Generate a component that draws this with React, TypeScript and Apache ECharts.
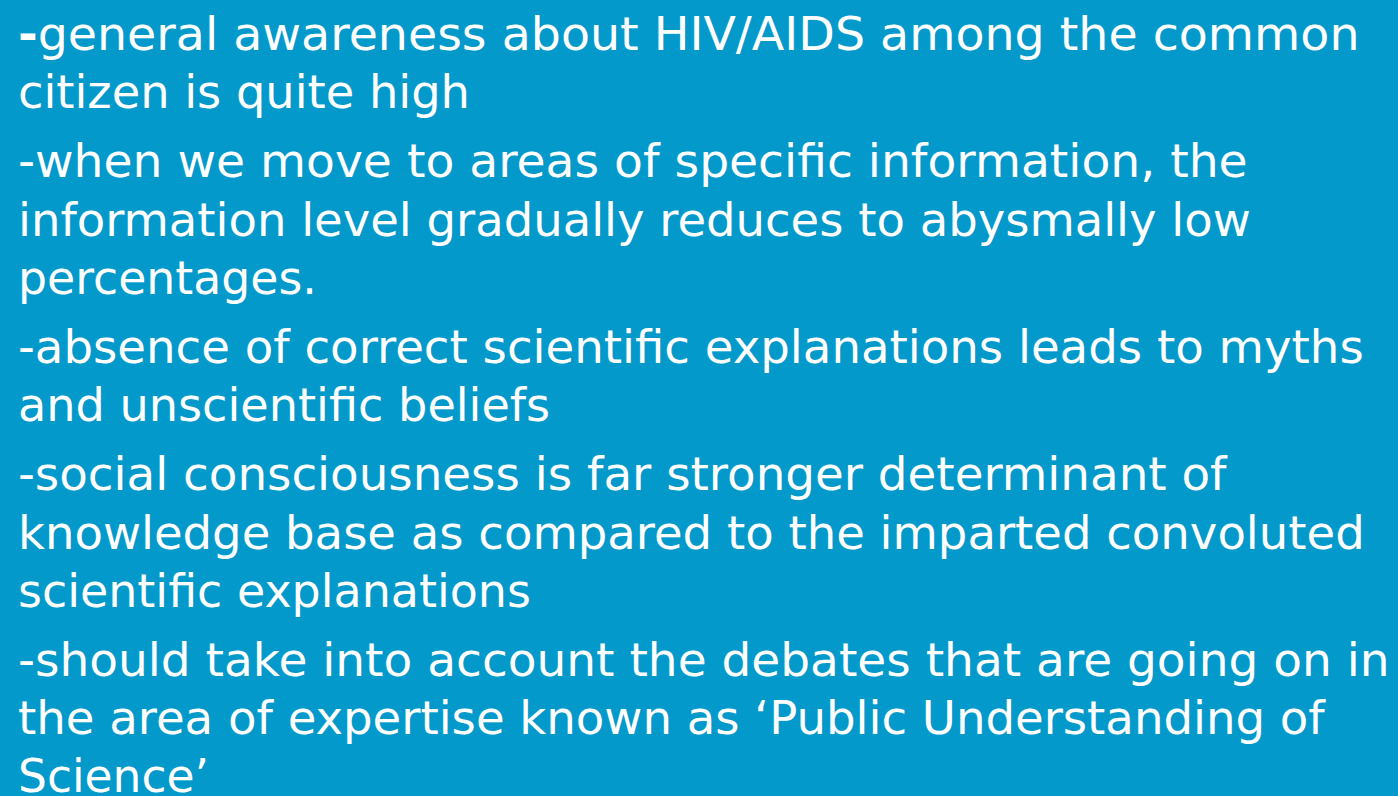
import React, { useEffect, useRef } from "react";
import * as echarts from "echarts";

// Slide content: each visual line, and the bullet paragraph it belongs to
const LINES: string[] = [
  "-general awareness about HIV/AIDS among the common",
  "citizen is quite high",
  "-when we move to areas of specific information, the",
  "information level gradually reduces to abysmally low",
  "percentages.",
  "-absence of correct scientific explanations leads to myths",
  "and unscientific beliefs",
  "-social consciousness is far stronger determinant of",
  "knowledge base as compared to the imparted convoluted",
  "scientific explanations",
  "-should take into account the debates that are going on in",
  "the area of expertise known as \u2018Public Understanding of",
  "Science\u2019",
];
const PARAGRAPH: number[] = [0, 0, 1, 1, 1, 2, 2, 3, 3, 3, 4, 4, 4];

// layout: right edge of each line as set in the slide's original font
const RIGHT_EDGE: number[] = [1358, 468, 1245, 1249, 315, 1362, 548, 1227, 1363, 529, 1387, 1325, 207];
const FONT_FAMILY = '"DejaVu Sans"';
const FONT_SIZE = 46;
const LEFT = 18;
const FIRST_BASELINE = 50;
const LINE_PITCH = 58.2;
const PARA_GAP = 11;
const BG = "#0399CB";

const lineCenter = (i: number) =>
  FIRST_BASELINE + i * LINE_PITCH + PARAGRAPH[i] * PARA_GAP - 0.346 * FONT_SIZE;

function buildGraphics(scales: number[]): any[] {
  return LINES.map((line, i) => {
    const isFirst = i === 0;
    return {
      id: "line" + i,
      type: "text",
      x: LEFT,
      y: lineCenter(i),
      scaleX: scales[i],
      silent: true,
      style: isFirst
        ? {
            text: "{d|-}{n|" + line.slice(1) + "}",
            verticalAlign: "middle",
            fill: "#FFFFFF",
            rich: {
              d: { fontFamily: FONT_FAMILY, fontSize: FONT_SIZE, fontWeight: "bold", fill: "#FFFFFF" },
              n: { fontFamily: FONT_FAMILY, fontSize: FONT_SIZE, fill: "#FFFFFF" },
            },
          }
        : {
            text: line,
            fontFamily: FONT_FAMILY,
            fontSize: FONT_SIZE,
            fill: "#FFFFFF",
            verticalAlign: "middle",
          },
    };
  });
}

export default function App() {
  const ref = useRef<HTMLDivElement>(null);
  useEffect(() => {
    const host = ref.current;
    if (!host) return;
    const chart = echarts.init(host, undefined, { renderer: "svg" });
    const base = LINES.map(() => 0.9);
    chart.setOption({
      animation: false,
      backgroundColor: BG,
      graphic: buildGraphics(base),
    });

    // fit each line's width to the slide's line width, using the rendered SVG text
    const fit = (): boolean => {
      const texts = host.querySelectorAll("text");
      if (!texts.length) return false;
      const hr = host.getBoundingClientRect();
      const rights = LINES.map(() => -1);
      texts.forEach((t) => {
        const r = t.getBoundingClientRect();
        if (r.width === 0) return;
        const cy = (r.top + r.bottom) / 2 - hr.top;
        let best = 0;
        let bd = Infinity;
        for (let i = 0; i < LINES.length; i++) {
          const d = Math.abs(lineCenter(i) - cy);
          if (d < bd) {
            bd = d;
            best = i;
          }
        }
        rights[best] = Math.max(rights[best], r.right - hr.left);
      });
      const scales = rights.map((r, i) =>
        r > LEFT ? (base[i] * (RIGHT_EDGE[i] - LEFT + 2)) / (r - LEFT) : base[i]
      );
      chart.setOption({ graphic: buildGraphics(scales) });
      return true;
    };
    let raf = 0;
    if (!fit()) {
      raf = requestAnimationFrame(() => {
        fit();
      });
    }
    return () => {
      cancelAnimationFrame(raf);
      chart.dispose();
    };
  }, []);
  return (
    <div
      ref={ref}
      style={{ position: "fixed", left: 0, top: 0, width: "1398px", height: "796px", background: BG }}
    />
  );
}
